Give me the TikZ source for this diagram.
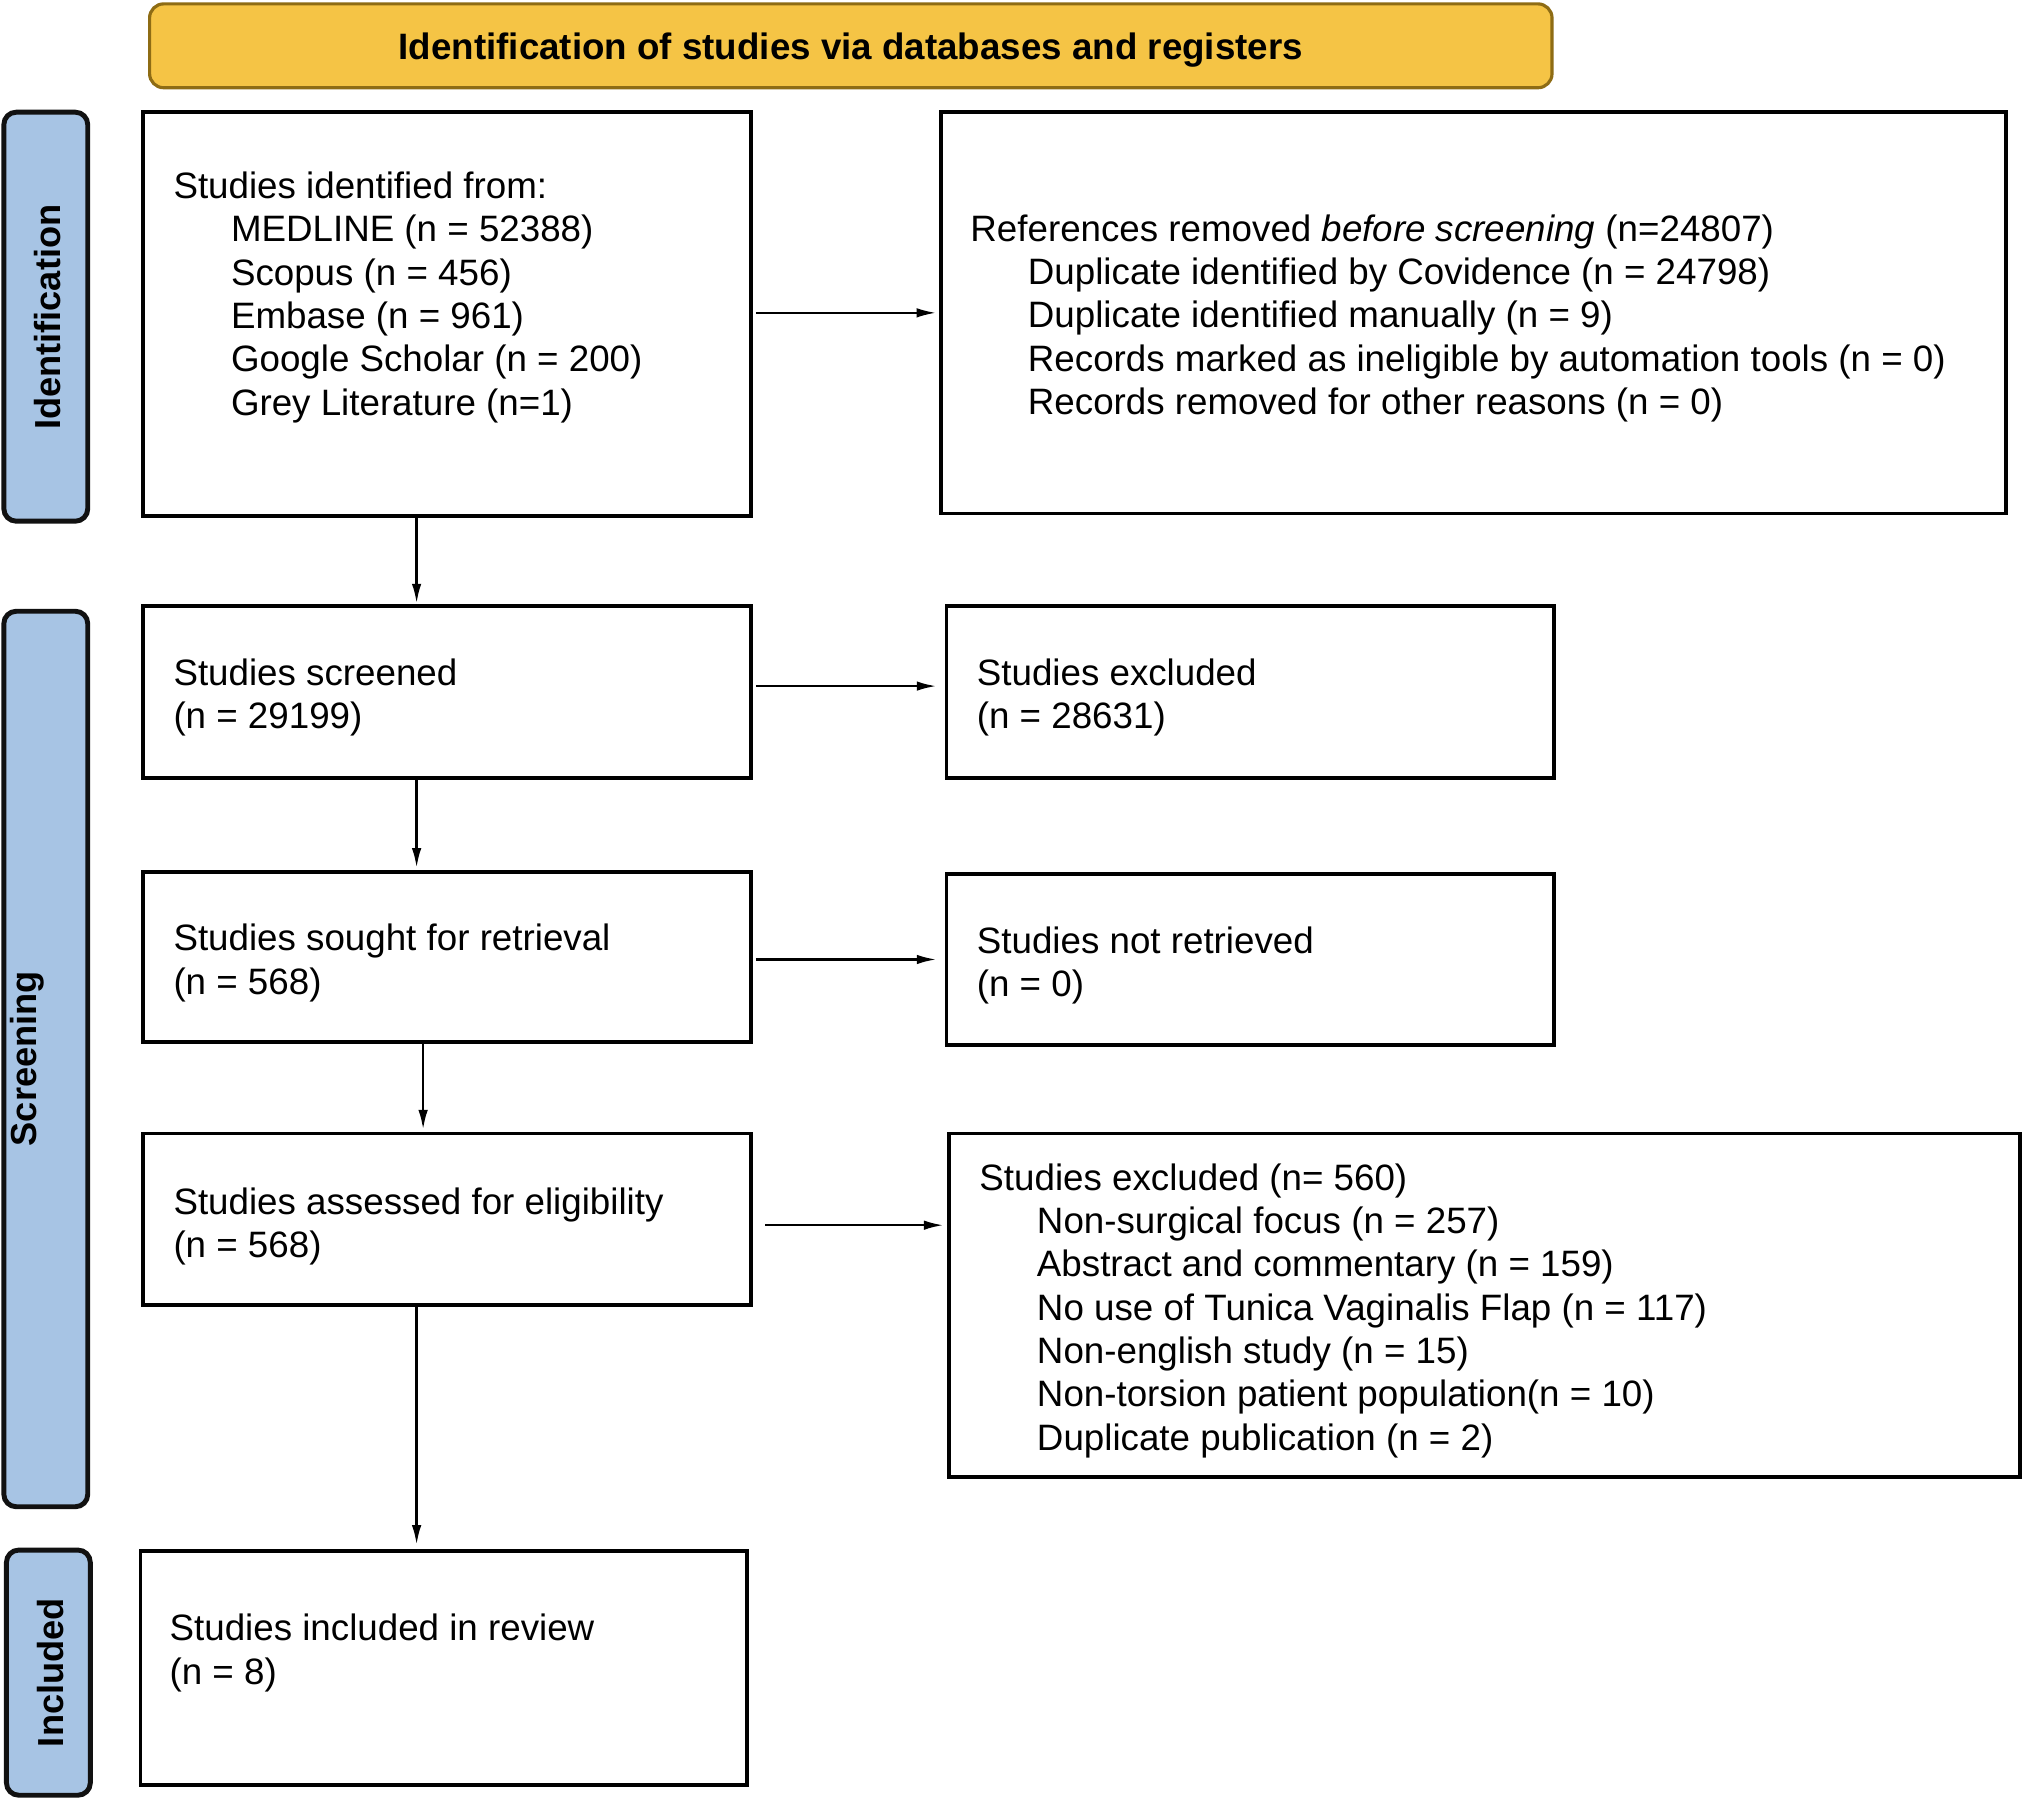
\documentclass[tikz,border=0pt]{standalone}
\usepackage{fontspec}
\setmainfont{Liberation Sans}
\usetikzlibrary{arrows.meta,calc}
\definecolor{hdrfill}{HTML}{F5C445}
\definecolor{hdrline}{HTML}{8E6C14}
\definecolor{barfill}{HTML}{A7C4E4}
\definecolor{barline}{HTML}{111111}
\newcommand{\ind}{\hspace*{0.575cm}}
\begin{document}
\begin{tikzpicture}[x=0.0129cm, y=-0.0129cm,
  box/.style={draw=black, line width=1.1pt, rectangle, inner sep=0pt, outer sep=0pt, anchor=north west},
  bar/.style={draw=barline, fill=barfill, line width=1.4pt, rounded corners=3.5pt, inner sep=0pt, outer sep=0pt, anchor=north west},
  hdr/.style={draw=hdrline, fill=hdrfill, line width=0.9pt, rounded corners=4pt, inner sep=0pt, outer sep=0pt, anchor=north west,
    font=\fontsize{10.45}{12}\selectfont\bfseries, text depth=0pt},
  bartext/.style={font=\fontsize{10.3}{12}\selectfont\bfseries, rotate=90, inner sep=0pt},
  tx/.style={font=\fontsize{10.45}{12.33}\selectfont, align=left, anchor=base west, inner sep=0pt},
  arr/.style={-{Latex[length=5.6pt,width=2.7pt]}, line width=0.7pt}]
\useasboundingbox (0,0) rectangle (1568,1395);

% header
\node[hdr, minimum width=14.022cm, minimum height=0.8385cm] (hdr) at (116,3) {Identification of studies via databases and registers};

% side bars
\node[bar, minimum width=0.8385cm, minimum height=4.089cm] (sid) at (3,87) {};
\node[bar, minimum width=0.8385cm, minimum height=8.953cm] (sscr) at (3,474) {};
\node[bar, minimum width=0.8385cm, minimum height=2.451cm] (sinc) at (5,1202) {};
\node[bartext] (lid) at (36.5,246) {Identification};
\node[bartext] (lscr) at (21,821) {Screening};
\node[bartext] (linc) at (39,1297) {Included};

% boxes
\node[box, minimum width=6.076cm, minimum height=4.038cm] (b1) at (111,87) {};
\node[box, minimum width=10.643cm, minimum height=4.012cm] (b2) at (730,87) {};
\node[box, minimum width=6.076cm, minimum height=1.716cm] (b3) at (111,470) {};
\node[box, minimum width=6.076cm, minimum height=1.716cm] (b4) at (734,470) {};
\node[box, minimum width=6.076cm, minimum height=1.703cm] (b5) at (111,676) {};
\node[box, minimum width=6.076cm, minimum height=1.703cm] (b6) at (734,678) {};
\node[box, minimum width=6.076cm, minimum height=1.716cm] (b7) at (111,879) {};
\node[box, minimum width=10.707cm, minimum height=3.431cm] (b8) at (736,879) {};
\node[box, minimum width=6.063cm, minimum height=2.335cm] (b9) at (109,1203) {};

% texts (anchor = baseline of last line)
\node[tx] (t1) at (134,322) {Studies identified from:\\
  \ind MEDLINE (n = 52388)\\
  \ind Scopus (n = 456)\\
  \ind Embase (n = 961)\\
  \ind Google Scholar (n = 200)\\
  \ind Grey Literature (n=1)};
\node[tx] (t2) at (752,321.4) {References removed \textit{before screening} (n=24807)\\
  \ind Duplicate identified by Covidence (n = 24798)\\
  \ind Duplicate identified manually (n = 9)\\
  \ind Records marked as ineligible by automation tools (n = 0)\\
  \ind Records removed for other reasons (n = 0)};
\node[tx] (t3) at (134,565) {Studies screened\\(n = 29199)};
\node[tx] (t4) at (757,565) {Studies excluded\\(n = 28631)};
\node[tx] (t5) at (134,771) {Studies sought for retrieval\\(n = 568)};
\node[tx] (t6) at (757,773) {Studies not retrieved\\(n = 0)};
\node[tx] (t7) at (134,975) {Studies assessed for eligibility\\(n = 568)};
\node[tx] (t8) at (759,1124.6) {Studies excluded (n= 560)\\
  \ind Non-surgical focus (n = 257)\\
  \ind Abstract and commentary (n = 159)\\
  \ind No use of Tunica Vaginalis Flap (n = 117)\\
  \ind Non-english study (n = 15)\\
  \ind Non-torsion patient population(n = 10)\\
  \ind Duplicate publication (n = 2)};
\node[tx] (t9) at (131,1306) {Studies included in review\\(n = 8)};

% horizontal arrows
\draw[arr, shorten <=0.05cm, shorten >=0.05cm] (b1.east |- b2.west) -- (b2.west);
\draw[arr, shorten <=0.05cm, shorten >=0.1cm] ($(b3.north east)!0.466!(b3.south east)$) coordinate (a3) -- (a3 -| b4.west);
\draw[arr, shorten <=0.05cm, shorten >=0.1cm] ($(b5.north east)!0.515!(b5.south east)$) coordinate (a5) -- (a5 -| b6.west);
\draw[arr, shorten <=0.142cm, shorten >=0.055cm] ($(b7.north east)!0.534!(b7.south east)$) coordinate (a7) -- (a7 -| b8.west);

% vertical arrows
\draw[arr, shorten >=0.026cm] ($(b1.south west)!0.45!(b1.south east)$) coordinate (v1) -- (v1 |- b3.north);
\draw[arr, shorten >=0.039cm] ($(b3.south west)!0.45!(b3.south east)$) coordinate (v3) -- (v3 |- b5.north);
\draw[arr, shorten >=0.039cm] ($(b5.south west)!0.4607!(b5.south east)$) coordinate (v5) -- (v5 |- b7.north);
\draw[arr, shorten >=0.065cm] ($(b7.south west)!0.45!(b7.south east)$) coordinate (v7) -- (v7 |- b9.north);
\end{tikzpicture}
\end{document}
